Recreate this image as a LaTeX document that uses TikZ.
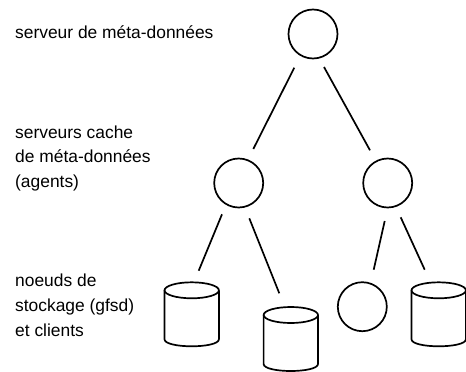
\documentclass[tikz,border=0pt]{standalone}
\usepackage{fontspec}
\setmainfont{Liberation Sans}
\begin{document}
\begin{tikzpicture}[x=1pt,y=-1pt,line join=round,
  wire/.style={line width=1.7pt,black},
  srv/.style={circle,draw,line width=1.7pt,minimum size=49pt,inner sep=0pt},
  lab/.style={anchor=base west,inner sep=0pt,font=\fontsize{17.4}{17.4}\selectfont},
  pics/disk/.style={code={
    \draw[wire] (0,0) ellipse [x radius=27.2,y radius=8];
    \draw[wire] (-27.2,0) -- (-27.2,49) .. controls (-27.2,53.5) and (-14,56) .. (0,56) .. controls (14,56) and (27.2,53.5) .. (27.2,49) -- (27.2,0);
  }}]
\useasboundingbox (0,0) rectangle (466,372);
\node[srv] (top) at (313,34) {};
\node[srv] (midl) at (238.7,183) {};
\node[srv] (midr) at (387.7,183) {};
\node[srv] (low) at (362.3,306.7) {};
\pic (d1) at (191.7,290.3) {disk};
\pic (d2) at (290.8,315) {disk};
\pic (d3) at (438.7,290.3) {disk};
\node[lab] (t1) at (15,38) {serveur de méta-données};
\node[lab] (t2) at (15,138) {serveurs cache};
\node[lab] (t3) at (15,162.5) {de méta-données};
\node[lab] (t4) at (15,187) {(agents)};
\node[lab] (t5) at (15,286) {noeuds de};
\node[lab] (t6) at (15,311) {stockage (gfsd)};
\node[lab] (t7) at (15,336) {et clients};
\coordinate (a1) at (294.3,67.7); \coordinate (b1) at (253.3,149);
\coordinate (a2) at (324,67);     \coordinate (b2) at (370,150.3);
\coordinate (a3) at (222,214.3);  \coordinate (b3) at (198.7,270.7);
\coordinate (a4) at (249.3,218.3);\coordinate (b4) at (279.3,293.3);
\coordinate (a5) at (384.7,221);  \coordinate (b5) at (373.7,269.7);
\coordinate (a6) at (400.7,217.3);\coordinate (b6) at (424.7,269.7);
\foreach \i in {1,...,6} \draw[wire] (a\i) -- (b\i);
\end{tikzpicture}
\end{document}
